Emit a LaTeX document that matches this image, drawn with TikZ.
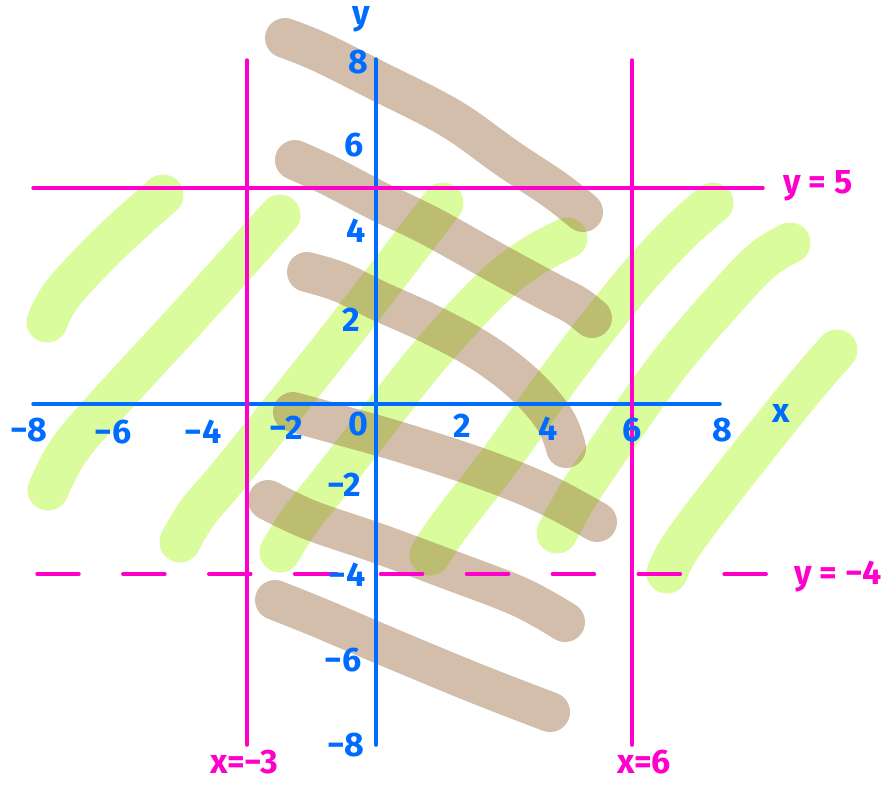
\documentclass[tikz,border=0pt]{standalone}
\usepackage{fontspec}
\setmainfont{Fira Sans}
\definecolor{axblue}{RGB}{0,108,255}
\definecolor{pinkm}{RGB}{255,0,204}
\definecolor{limeg}{RGB}{218,252,156}
\definecolor{brownb}{RGB}{148,102,55}
\tikzset{
 gstroke/.style={draw=limeg, line width=41pt, line cap=round, line join=round},
 bstroke/.style={draw=brownb, draw opacity=0.42, line width=40pt, line cap=round, line join=round},
 axisline/.style={draw=axblue, line width=3.5pt, line cap=round},
 pinkline/.style={draw=pinkm, line width=3.5pt, line cap=round},
 blab/.style={text=axblue, font=\fontsize{34}{34}\selectfont\bfseries, inner sep=0pt},
 plab/.style={text=pinkm, font=\fontsize{34}{34}\selectfont\bfseries, inner sep=0pt},
}
\begin{document}
\begin{tikzpicture}[x=1pt,y=-1pt]
\useasboundingbox (0,0) rectangle (896,785);
\fill[white] (0,0) rectangle (896,785);
% green strokes
\draw[gstroke] plot[smooth, tension=0.6] coordinates {(47,322) (63,293) (110,243) (163,195)};
\draw[gstroke] plot[smooth, tension=0.6] coordinates {(48,490) (67,453) (100,413) (190,315) (280,215)};
\draw[gstroke] plot[smooth, tension=0.6] coordinates {(180,542) (198,512) (235,468) (340,337) (443,203)};
\draw[gstroke] plot[smooth, tension=0.6] coordinates {(280,552) (300,520) (335,476) (380,418) (430,355) (490,290) (530,258) (567,238)};
\draw[gstroke] plot[smooth, tension=0.6] coordinates {(430,555) (450,525) (500,460) (567,367) (633,283) (680,232) (713,203)};
\draw[gstroke] plot[smooth, tension=0.6] coordinates {(557,533) (575,500) (600,462) (667,367) (733,290) (765,258) (790,243)};
\draw[gstroke] plot[smooth, tension=0.6] coordinates {(667,573) (683,543) (733,477) (800,393) (837,350)};
% brown strokes
\draw[bstroke] plot[smooth, tension=0.6] coordinates {(285,38) (320,52) (376,80) (450,118) (507,158) (555,190) (583,212)};
\draw[bstroke] plot[smooth, tension=0.6] coordinates {(295,160) (330,176) (376,200) (430,226) (500,265) (550,292) (575,305) (592,318)};
\draw[bstroke] plot[smooth, tension=0.6] coordinates {(307,272) (340,282) (377,300) (430,324) (482,352) (525,385) (555,420) (566,448)};
\draw[bstroke] plot[smooth, tension=0.6] coordinates {(293,412) (340,425) (400,442) (480,468) (545,494) (597,522)};
\draw[bstroke] plot[smooth, tension=0.6] coordinates {(268,500) (310,520) (377,543) (450,570) (520,597) (565,622)};
\draw[bstroke] plot[smooth, tension=0.6] coordinates {(275,600) (320,618) (400,652) (480,685) (550,712)};
% coordinates
\coordinate (xl) at (33,404); \coordinate (xr) at (720,404);
\coordinate (yt) at (376,59); \coordinate (yb) at (376,745);
\coordinate (am) at (247,60); \coordinate (an) at (247,745);
\coordinate (bm) at (632,60); \coordinate (bn) at (632,745);
\coordinate (cl) at (33,188); \coordinate (cr) at (763,188);
\coordinate (dl) at (37,574); \coordinate (dr) at (769,574);
% axes
\draw[axisline] (xl) -- (xr);
\draw[axisline] (yt) -- (yb);
% pink lines
\draw[pinkline] (am) -- (an);
\draw[pinkline] (bm) -- (bn);
\draw[pinkline] (cl) -- (cr);
\draw[pinkline, dash pattern=on 42pt off 43.9pt] (dl) -- (dr);
% x labels
\node[blab] (xm8) at (29,430) {−8};
\node[blab] (xm6) at (113,432) {−6};
\node[blab] (xm4) at (203,432) {−4};
\node[blab] (xm2) at (286,428) {−2};
\node[blab] (x0) at (358,424) {0};
\node[blab] (x2) at (462,426) {2};
\node[blab] (x4) at (548,429) {4};
\node[blab] (x6) at (632,430) {6};
\node[blab] (x8) at (722,430) {8};
\node[blab] (xname) at (781,413) {x};
% y labels
\node[blab] (yname) at (361,19) {y};
\node[blab] (y8) at (358,62) {8};
\node[blab] (y6) at (354,145) {6};
\node[blab] (y4) at (356,231) {4};
\node[blab] (y2) at (351,320) {2};
\node[blab] (ym2) at (344,485) {−2};
\node[blab] (ym4) at (347,575) {−4};
\node[blab] (ym6) at (343,660) {−6};
\node[blab] (ym8) at (346,745) {−8};
% pink labels
\node[plab] (ly5) at (818,186) {y = 5};
\node[plab] (lym4) at (838,576) {y = −4};
\node[plab] (lxm3) at (244,762) {x=−3};
\node[plab] (lx6) at (644,762) {x=6};
\end{tikzpicture}
\end{document}
